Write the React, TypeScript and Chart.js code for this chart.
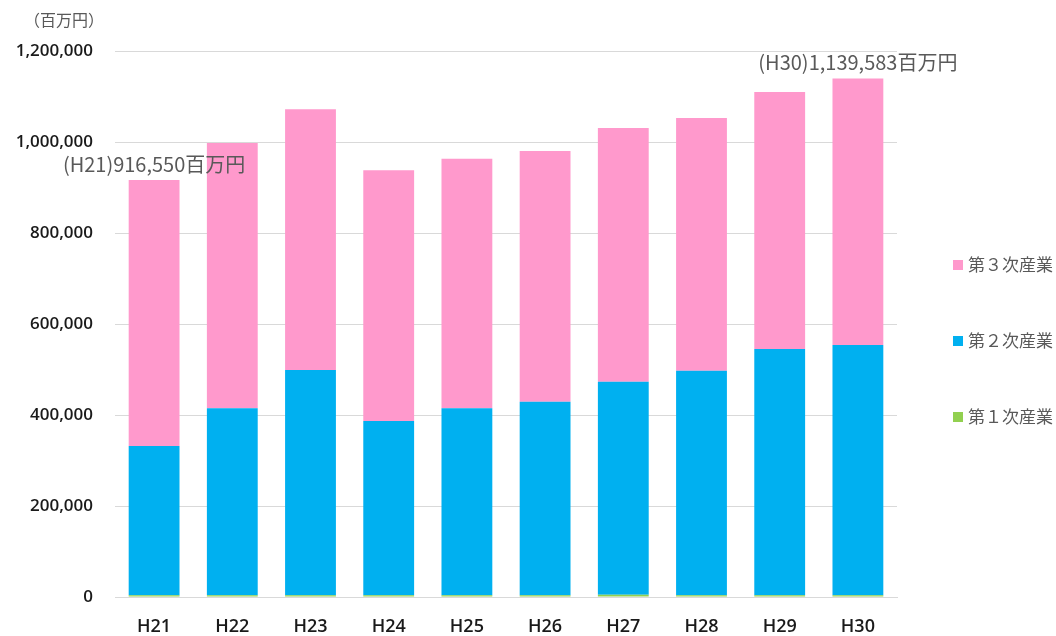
import React, { useEffect, useRef } from "react";
import { Chart, registerables } from "chart.js";

Chart.register(...registerables);

const categories = ["H21", "H22", "H23", "H24", "H25", "H26", "H27", "H28", "H29", "H30"];
const seriesNames = ["第１次産業", "第２次産業", "第３次産業"];
const primary = [4000, 4000, 4000, 4000, 4000, 4000, 5000, 4000, 4000, 4000];
const secondary = [328000, 411000, 495000, 383000, 411000, 425000, 468000, 493000, 541000, 550000];
const tertiary = [584550, 583000, 573000, 551000, 548000, 551000, 558000, 556000, 565000, 585583];
const seriesColors = ["#92D050", "#00B0F0", "#FF99CC"];
const yMax = 1200000;
const yStep = 200000;
const unitLabel = "（百万円）";
const calloutIndexes = [0, 9];
const calloutSuffix = "百万円";

const totals = categories.map((_, i) => primary[i] + secondary[i] + tertiary[i]);

const annotationPlugin = {
  id: "annotations",
  afterDatasetsDraw(chart: any) {
    const ctx = chart.ctx;
    const area = chart.chartArea;
    ctx.save();
    ctx.fillStyle = "#595959";
    ctx.font = '16px "Noto Sans CJK JP"';
    ctx.textAlign = "left";
    ctx.textBaseline = "middle";
    ctx.fillText(unitLabel, area.left - 91, area.top - 31);

    // callouts above first and last bar
    const meta = chart.getDatasetMeta(chart.data.datasets.length - 1);
    ctx.font = '20px "Noto Sans CJK JP"';
    ctx.textAlign = "center";
    calloutIndexes.forEach((i) => {
      const el = meta.data[i];
      const text = "(" + categories[i] + ")" + totals[i].toLocaleString("en-US") + calloutSuffix;
      ctx.fillText(text, el.x, el.y - 16);
    });

    // legend (reversed order, vertical, right side)
    const items = chart.data.datasets.map((d: any) => d).reverse();
    const boxX = area.right + 56;
    const centerY = 341;
    const pitch = 76;
    ctx.font = '17px "Noto Sans CJK JP"';
    ctx.textAlign = "left";
    items.forEach((d: any, k: number) => {
      const cy = centerY + (k - 1) * pitch;
      ctx.fillStyle = d.backgroundColor;
      ctx.fillRect(boxX, cy - 5, 10, 10);
      ctx.fillStyle = "#595959";
      ctx.fillText(d.label, boxX + 15, cy);
    });
    ctx.restore();
  },
};

export default function App() {
  const canvasRef = useRef<HTMLCanvasElement | null>(null);

  useEffect(() => {
    if (!canvasRef.current) return;
    const data = [primary, secondary, tertiary];
    const chart = new Chart(canvasRef.current, {
      type: "bar",
      data: {
        labels: categories,
        datasets: data.map((values, k) => ({
          label: seriesNames[k],
          data: values,
          backgroundColor: seriesColors[k],
          borderWidth: 0,
          categoryPercentage: 1,
          barPercentage: 0.65,
        })),
      },
      options: {
        responsive: false,
        animation: false,
        layout: { padding: { top: 51, left: 0, right: 159, bottom: 0 } },
        plugins: {
          legend: { display: false },
          tooltip: { enabled: false },
        },
        scales: {
          x: {
            stacked: true,
            afterFit: (scale: any) => {
              scale.height = 39;
            },
            grid: { display: false, drawTicks: false },
            border: { color: "#D9D9D9" },
            ticks: {
              color: "#1a1a1a",
              padding: 19,
              font: { family: '"Open Sans"', size: 18, weight: "600" },
            },
          },
          y: {
            stacked: true,
            min: 0,
            max: yMax,
            afterFit: (scale: any) => {
              scale.width = 115;
            },
            border: { display: false },
            grid: { color: "#D9D9D9", drawTicks: false },
            ticks: {
              stepSize: yStep,
              padding: 22,
              color: "#1a1a1a",
              font: { family: '"Open Sans"', size: 17, weight: "600" },
              callback: (v: any) => Number(v).toLocaleString("en-US"),
            },
          },
        },
      },
      plugins: [annotationPlugin],
    });
    return () => chart.destroy();
  }, []);

  return (
    <div style={{ position: "absolute", left: 0, top: 0, width: 1056, height: 636, background: "#fff" }}>
      <canvas ref={canvasRef} width={1056} height={636} style={{ width: 1056, height: 636 }} />
    </div>
  );
}
